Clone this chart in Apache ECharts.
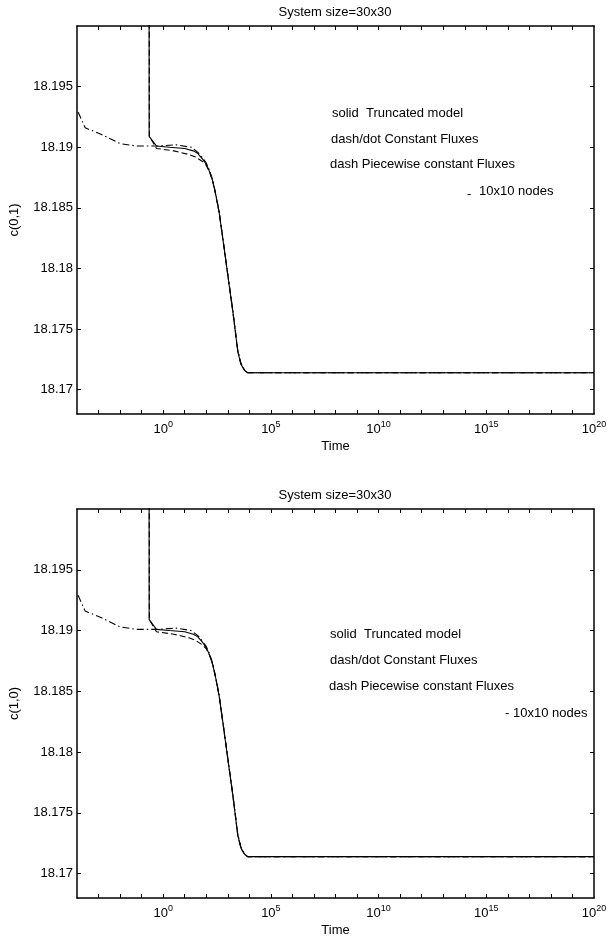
<!DOCTYPE html>
<html>
<head>
<meta charset="utf-8">
<script src="https://cdn.jsdelivr.net/npm/echarts@6/dist/echarts.min.js"></script>
<style>
html, body { margin: 0; background: #fff; }
#chart { width: 613px; height: 939px; }
</style>
</head>
<body>
<div id="chart"></div>
<script>
// time is kept as log10 exponents
var truncExp = [-0.67, -0.65, -0.31, 0.3, 1.0, 1.4, 1.6, 1.84, 2.0, 2.15, 2.3, 2.45, 2.6, 2.75, 2.92, 3.05, 3.23, 3.35, 3.46, 3.61, 3.78, 3.92, 20];
var truncVal = [18.25, 18.1909, 18.1901, 18.1900, 18.1899, 18.1897, 18.1895, 18.1890, 18.1886, 18.1880, 18.1872, 18.1860, 18.1846, 18.1827, 18.1805, 18.1788, 18.1765, 18.1748, 18.1732, 18.1721, 18.1716, 18.1714, 18.1714];

var constExp = [-3.95, -3.62, -2.92, -2.0, -1.23, -0.3, 0.6, 1.3, 1.6, 1.84, 2.0, 2.15, 2.3, 2.45, 2.6, 2.75, 2.92, 3.05, 3.23, 3.35, 3.46, 3.61, 3.78, 3.92, 20];
var constVal = [18.1929, 18.1916, 18.1911, 18.1903, 18.1901, 18.1901, 18.1902, 18.1900, 18.1896, 18.1891, 18.1887, 18.1881, 18.1873, 18.1861, 18.1847, 18.1828, 18.1806, 18.1789, 18.1766, 18.1749, 18.1733, 18.1722, 18.1716, 18.1714, 18.1714];

var pieceExp = [-0.67, -0.64, -0.31, 0.5, 1.2, 1.5, 1.84, 2.0, 2.15, 2.3, 2.45, 2.6, 2.75, 2.92, 3.05, 3.23, 3.35, 3.46, 3.61, 3.78, 3.92, 20];
var pieceVal = [18.25, 18.1909, 18.1899, 18.1897, 18.1894, 18.1892, 18.1888, 18.1885, 18.1880, 18.1872, 18.1860, 18.1846, 18.1827, 18.1805, 18.1788, 18.1765, 18.1748, 18.1732, 18.1721, 18.1716, 18.1714, 18.1714];

var xTickExp = [-3, -2, -1, 0, 1, 2, 3, 4, 5, 6, 7, 8, 9, 10, 11, 12, 13, 14, 15, 16, 17, 18, 19];
var xLabelExp = [0, 5, 10, 15, 20];
var yTicks = [18.17, 18.175, 18.18, 18.185, 18.19, 18.195];

var FONT = "'Liberation Sans', Arial, Helvetica, sans-serif";

function pairs(exps, vals) {
    return exps.map(function (e, i) { return [Math.pow(10, e), vals[i]]; });
}
function pow10(list) {
    return list.map(function (e) { return Math.pow(10, e); });
}

function xAxes(grid, name) {
    var base = {
        type: 'log', logBase: 10, min: 1e-4, max: 1e20, gridIndex: grid,
        axisLine: { onZero: false, lineStyle: { color: '#000', width: 1.5 } },
        axisTick: { inside: true, length: 4, customValues: pow10(xTickExp), lineStyle: { color: '#000' } },
        splitLine: { show: false }
    };
    var bottom = Object.assign({}, base, {
        position: 'bottom',
        name: name, nameLocation: 'middle', nameGap: 26,
        nameTextStyle: { color: '#000', fontSize: 13, fontFamily: FONT },
        axisLabel: {
            customValues: pow10(xLabelExp), margin: 6, color: '#000',
            formatter: function (v) {
                return '{b|10}{s|' + Math.round(Math.log10(v)) + '}';
            },
            rich: {
                b: { fontSize: 13, fontFamily: FONT, color: '#000' },
                s: { fontSize: 9, fontFamily: FONT, color: '#000', verticalAlign: 'top', padding: [0, 0, 9, 0] }
            }
        }
    });
    var top = Object.assign({}, base, { position: 'top', axisLabel: { show: false } });
    return [bottom, top];
}

function yAxes(grid, name) {
    var base = {
        type: 'value', min: 18.168, max: 18.2, gridIndex: grid,
        axisLine: { onZero: false, lineStyle: { color: '#000', width: 1.5 } },
        axisTick: { inside: true, length: 4, customValues: yTicks, lineStyle: { color: '#000' } },
        splitLine: { show: false }
    };
    var left = Object.assign({}, base, {
        position: 'left',
        name: name, nameLocation: 'middle', nameGap: 56, nameRotate: 90,
        nameTextStyle: { color: '#000', fontSize: 13, fontFamily: FONT },
        axisLabel: {
            customValues: yTicks, margin: 4, color: '#000', fontSize: 13, fontFamily: FONT,
            formatter: function (v) { return v.toFixed(3).replace(/0+$/, ''); }
        }
    });
    var right = Object.assign({}, base, { position: 'right', axisLabel: { show: false } });
    return [left, right];
}

function lines(xi, yi) {
    return [
        { data: pairs(truncExp, truncVal), lineStyle: { type: 'solid' } },
        { data: pairs(constExp, constVal), lineStyle: { type: [7, 3, 1.5, 3] } },
        { data: pairs(pieceExp, pieceVal), lineStyle: { type: [6, 3] } }
    ].map(function (s) {
        return {
            type: 'line', xAxisIndex: xi, yAxisIndex: yi, data: s.data,
            showSymbol: false, silent: true, clip: true,
            lineStyle: Object.assign({ color: '#000', width: 1.1 }, s.lineStyle)
        };
    });
}

function label(text, x, y, align) {
    return {
        type: 'text', x: x, y: y, silent: true,
        style: { text: text, fill: '#000', fontSize: 13, fontFamily: FONT, align: align || 'left', verticalAlign: 'middle' }
    };
}

var chart = echarts.init(document.getElementById('chart'));
chart.setOption({
    animation: false,
    backgroundColor: '#fff',
    grid: [
        { left: 76, right: 19, top: 26, height: 388 },
        { left: 76, right: 19, top: 509, height: 389 }
    ],
    xAxis: xAxes(0, 'Time').concat(xAxes(1, 'Time')),
    yAxis: yAxes(0, 'c(0,1)').concat(yAxes(1, 'c(1,0)')),
    series: lines(0, 0).concat(lines(2, 2)),
    graphic: [
        label('System size=30x30', 335, 12, 'center'),
        label('solid  Truncated model', 332, 113),
        label('dash/dot Constant Fluxes', 331, 139),
        label('dash Piecewise constant Fluxes', 330, 164),
        label('-', 467, 194),
        label('10x10 nodes', 479, 191),
        label('System size=30x30', 335, 495, 'center'),
        label('solid  Truncated model', 330, 634),
        label('dash/dot Constant Fluxes', 330, 660),
        label('dash Piecewise constant Fluxes', 329, 686),
        label('- 10x10 nodes', 505, 713)
    ]
});
</script>
</body>
</html>
